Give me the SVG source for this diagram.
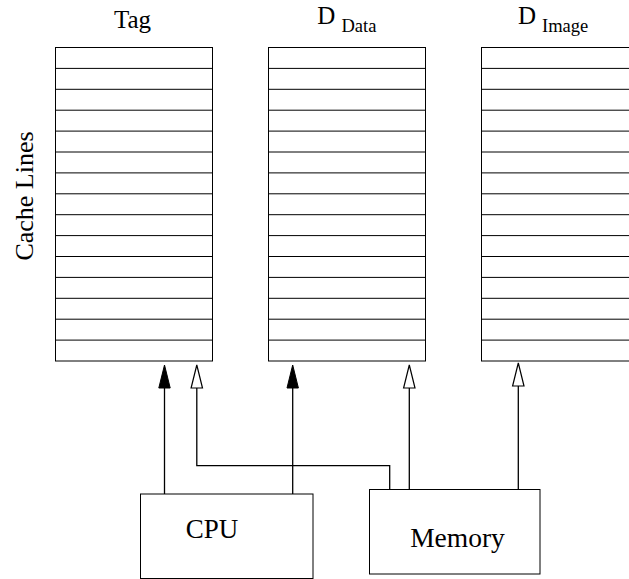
<svg xmlns="http://www.w3.org/2000/svg" width="629" height="579" viewBox="0 0 629 579">
  <style>
    text { font-family: "Liberation Serif", "Times New Roman", serif; fill: #000; }
    .frame { fill: #fff; stroke: #000; stroke-width: 1; }
    .row { stroke: #000; stroke-width: 1; }
    .wire { fill: none; stroke: #000; stroke-width: 1.3; }
    .filled { marker-end: url(#headFilled); }
    .hollow { marker-end: url(#headHollow); }
  </style>
  <defs>
    <!-- 15 cache-line rows, 157 wide, pitch 20.9 -->
    <g id="cacheRows">
      <rect class="frame" x="0" y="0" width="157" height="313.5"/>
      <path class="row" d="M0,20.9H157M0,41.8H157M0,62.7H157M0,83.6H157M0,104.5H157M0,125.4H157M0,146.3H157M0,167.2H157M0,188.1H157M0,209H157M0,229.9H157M0,250.8H157M0,271.7H157M0,292.6H157"/>
    </g>
    <marker id="headFilled" viewBox="0 0 24 13" markerUnits="userSpaceOnUse" markerWidth="24" markerHeight="13" refX="0" refY="6.5" orient="auto" overflow="visible">
      <path d="M0,0.8 L23,6.5 L0,12.2 Z" fill="#000" stroke="#000" stroke-width="1"/>
    </marker>
    <marker id="headHollow" viewBox="0 0 24 13" markerUnits="userSpaceOnUse" markerWidth="24" markerHeight="13" refX="0" refY="6.5" orient="auto" overflow="visible">
      <path d="M0,0.8 L23,6.5 L0,12.2 Z" fill="#fff" stroke="#000" stroke-width="1.2"/>
    </marker>
  </defs>

  <!-- vertical axis label -->
  <text x="32.5" y="196" font-size="26" text-anchor="middle" transform="rotate(-90 32.5 196)">Cache Lines</text>

  <g id="tag">
    <text x="132.5" y="28" font-size="25" text-anchor="middle">Tag</text>
    <use href="#cacheRows" x="55.5" y="47.5"/>
  </g>

  <g id="d-data">
    <text x="317.3" y="24" font-size="25">D</text>
    <text x="341.5" y="32.3" font-size="18.5">Data</text>
    <use href="#cacheRows" x="268.5" y="47.5"/>
  </g>

  <g id="d-image">
    <text x="518" y="24" font-size="25">D</text>
    <text x="542" y="32.3" font-size="18.5">Image</text>
    <use href="#cacheRows" x="481.5" y="47.5"/>
  </g>

  <g id="cpu">
    <rect class="frame" x="140.5" y="494" width="172.5" height="84.5"/>
    <text x="212" y="538.3" font-size="27" text-anchor="middle">CPU</text>
  </g>

  <g id="memory">
    <rect class="frame" x="369.5" y="489.5" width="170.5" height="84.5"/>
    <text x="457.5" y="547.3" font-size="27.5" text-anchor="middle">Memory</text>
  </g>

  <g id="connectors">
    <path class="wire filled" d="M164.5,494 V388"/>
    <path class="wire filled" d="M292.7,494 V388"/>
    <path class="wire hollow" d="M389.7,489.5 V465.7 H196.8 V388"/>
    <path class="wire hollow" d="M409.3,489.5 V388"/>
    <path class="wire hollow" d="M518.3,489.5 V386"/>
  </g>
</svg>
